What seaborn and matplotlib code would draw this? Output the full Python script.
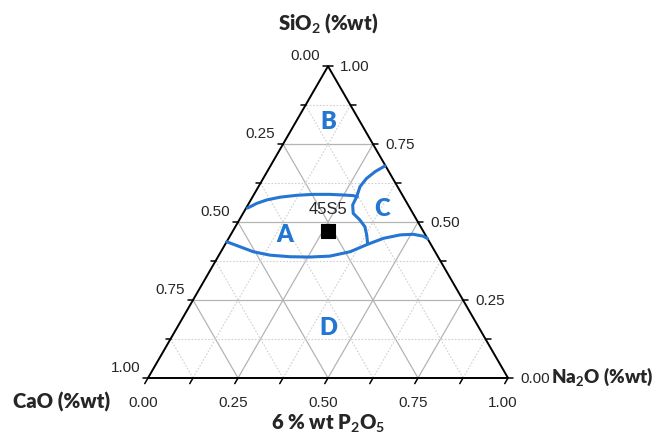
import matplotlib
matplotlib.use("Agg")
import matplotlib.pyplot as plt
import numpy as np
import pandas as pd
import seaborn as sns

# Composition fractions (SiO2, Na2O); CaO = 1 - SiO2 - Na2O
ticks = [0.0, 0.25, 0.5, 0.75, 1.0]
tick_labels = ["0.00", "0.25", "0.50", "0.75", "1.00"]
minor_ticks = [0.125, 0.375, 0.625, 0.875]

upper_a_si = [0.545, 0.560, 0.571, 0.580, 0.586, 0.589, 0.589, 0.587, 0.585, 0.581]
upper_a_na = [0.004, 0.022, 0.044, 0.077, 0.120, 0.165, 0.211, 0.249, 0.278, 0.291]

c_bound_si = [0.680, 0.662, 0.640, 0.614, 0.581, 0.555, 0.528, 0.507, 0.485, 0.459, 0.432]
c_bound_na = [0.318, 0.300, 0.287, 0.282, 0.289, 0.291, 0.306, 0.335, 0.360, 0.378, 0.394]

lower_si = [0.437, 0.421, 0.405, 0.394, 0.389, 0.388, 0.391, 0.405, 0.429, 0.448, 0.459, 0.461,
            0.455, 0.447]
lower_na = [0.000, 0.045, 0.090, 0.142, 0.200, 0.256, 0.310, 0.359, 0.396, 0.430, 0.471, 0.506,
            0.537, 0.553]

glass_name = "45S5"
glass_si = 0.471
glass_na = 0.265

regions = ["A", "B", "C", "D"]
region_si = [0.460, 0.820, 0.542, 0.160]
region_na = [0.150, 0.090, 0.380, 0.420]

BLUE = "#2476d2"
S3 = np.sqrt(3) / 2
PX = 1 / 360.0  # one pixel in data units


def to_xy(si, na):
    si = np.asarray(si, dtype=float)
    na = np.asarray(na, dtype=float)
    return na + si / 2, si * S3


sns.set_theme(style="white")
plt.rcParams["font.family"] = ["Liberation Sans", "DejaVu Sans"]
plt.rcParams["mathtext.fontset"] = "custom"
plt.rcParams["mathtext.rm"] = "Lato:bold"
plt.rcParams["mathtext.default"] = "rm"

fig = plt.figure(figsize=(6.61, 4.37), dpi=100)
ax = fig.add_axes([0, 0, 1, 1])
ax.set_xlim(-148 * PX, (661 - 148) * PX)
ax.set_ylim(-59 * PX, 378 * PX)
ax.axis("off")

# grid lines
for v in ticks[1:-1] + minor_ticks:
    major = v in ticks
    kw = dict(color="#b4b4b4", lw=0.9, ls="-") if major else dict(color="#d0d0d0", lw=0.8, ls=(0, (1.5, 1.5)))
    # constant SiO2
    x, y = to_xy([v, v], [0, 1 - v])
    ax.plot(x, y, zorder=1, **kw)
    # constant Na2O
    x, y = to_xy([0, 1 - v], [v, v])
    ax.plot(x, y, zorder=1, **kw)
    # constant CaO
    x, y = to_xy([0, 1 - v], [1 - v, 0])
    ax.plot(x, y, zorder=1, **kw)

# triangle frame
x, y = to_xy([0, 0, 1, 0], [0, 1, 0, 0])
ax.plot(x, y, color="black", lw=1.4, zorder=3, solid_joinstyle="miter")

# ticks
tl = 5 * PX
for v in ticks + minor_ticks:
    # bottom (Na2O)
    bx, by = v, 0
    ax.plot([bx, bx - 0.5 * tl * 1.3], [by, by - S3 * tl * 1.3], color="black", lw=1.1, zorder=3)
    # left (CaO)
    lx, ly = (1 - v) / 2, (1 - v) * S3
    ax.plot([lx, lx - tl], [ly, ly], color="black", lw=1.1, zorder=3)
    # right (SiO2)
    rx, ry = 1 - v / 2, v * S3
    ax.plot([rx, rx + tl], [ry, ry], color="black", lw=1.1, zorder=3)

tick_fs = 11
for v, lab in zip(ticks, tick_labels):
    ax.text(v - 5 * PX, -25 * PX, lab, ha="center", va="center", fontsize=tick_fs)
    lx, ly = (1 - v) / 2, (1 - v) * S3
    ax.text(lx - 8 * PX, ly + 10 * PX, lab, ha="right", va="center", fontsize=tick_fs)
    rx, ry = 1 - v / 2, v * S3
    ax.text(rx + 12 * PX, ry - 1 * PX, lab, ha="left", va="center", fontsize=tick_fs)

# field boundaries
for si, na in [(upper_a_si, upper_a_na), (c_bound_si, c_bound_na), (lower_si, lower_na)]:
    x, y = to_xy(si, na)
    sns.lineplot(x=x, y=y, sort=False, estimator=None, color=BLUE, lw=2.2, ax=ax, zorder=4,
                 solid_joinstyle="round", solid_capstyle="round")

# region letters
for lab, si, na in zip(regions, region_si, region_na):
    x, y = to_xy(si, na)
    ax.text(x, y, lab, ha="center", va="center", fontsize=17, color=BLUE,
            family=["Lato", "DejaVu Sans"], fontweight="heavy", zorder=5)

# 45S5 composition
gx, gy = to_xy(glass_si, glass_na)
pts = pd.DataFrame({"x": [gx], "y": [gy]})
sns.scatterplot(data=pts, x="x", y="y", marker="s", s=95, color="black", edgecolor="black", ax=ax, zorder=6)
ax.text(gx, gy + 22 * PX, glass_name, ha="center", va="center", fontsize=12, zorder=6)

# axis titles
tfont = dict(family=["Lato", "DejaVu Sans"], fontweight="heavy", fontsize=14.5, ha="center", va="center")
ax.text(0.5, 355 * PX, "SiO$_2$ (%wt)", **tfont)
ax.text(-86 * PX, -24 * PX, "CaO (%wt)", **tfont)
ax.text(505 * PX, 1 * PX, "Na$_2$O (%wt)", **dict(tfont, fontsize=13.5, ha="right"))
ax.text(0.5, -46 * PX, "6 % wt P$_2$O$_5$", **tfont)

ax.set_xlabel("")
ax.set_ylabel("")
fig.savefig("out.png", dpi=100)
